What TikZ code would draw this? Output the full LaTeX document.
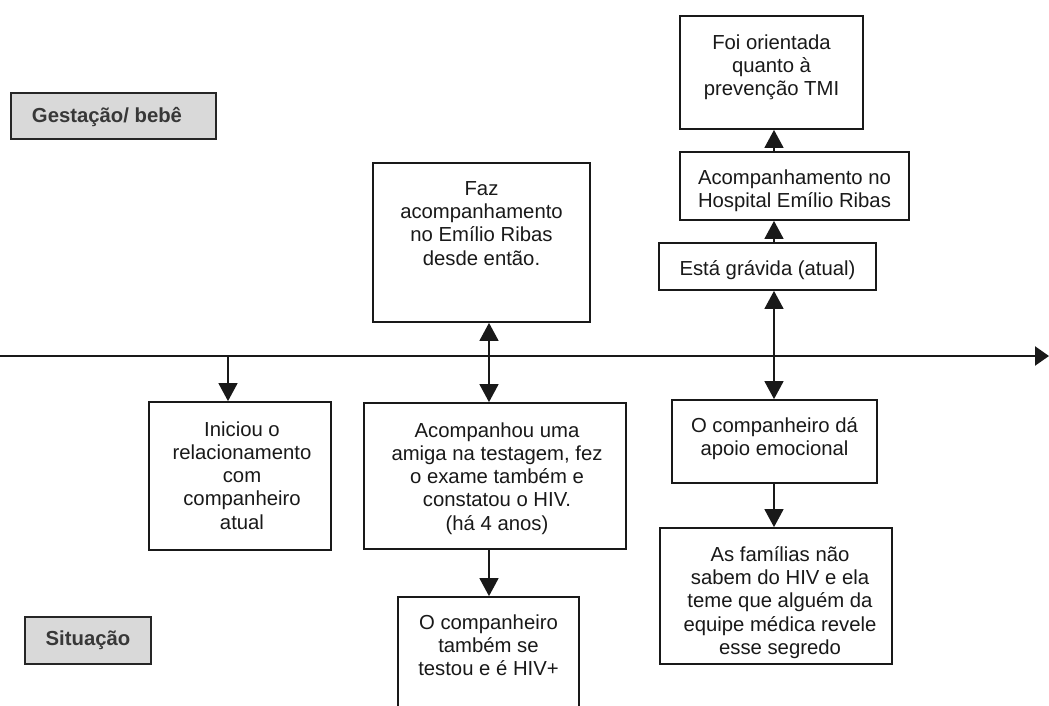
\documentclass[tikz,border=0pt]{standalone}
\usepackage{fontspec}
\setmainfont{Liberation Sans}
\usetikzlibrary{arrows.meta,calc}
\begin{document}
\begin{tikzpicture}[x=1pt,y=-1pt,
  box/.style={draw=black!90, line width=1.8pt, rectangle, inner sep=0pt},
  tag/.style={draw=black!85, line width=2pt, fill=black!15, rectangle, inner sep=0pt},
  tagtxt/.style={inner sep=0pt, font=\fontsize{20.3}{23.3}\selectfont\bfseries, text=black!78},
  txt/.style={align=center, inner sep=0pt, font=\fontsize{20.3}{23.3}\selectfont, text=black!90},
  arr/.style={draw=black!90, line width=1.5pt, -{Triangle[length=18pt,width=19pt]}},
  darr/.style={draw=black!90, line width=1.5pt, {Triangle[length=18pt,width=19pt]}-{Triangle[length=18pt,width=19pt]}},
  axis/.style={draw=black!90, line width=2.2pt, -{Triangle[length=14pt,width=19pt]}}
]
\useasboundingbox (0,0) rectangle (1049,705);
\fill[white] (0,0) rectangle (1049,705);
\clip (0,0) rectangle (1049,705);

% row labels
\node[tag, minimum width=205pt, minimum height=46pt] (gest) at (113.5,116) {};
\node[tagtxt] (gestT) at (107,117) {Gestação/ bebê};
\node[tag, minimum width=126pt, minimum height=47pt] (sit) at (88,640.5) {};
\node[tagtxt] (sitT) at (sit.center) {Situação};

% time axis
\coordinate (tA) at (0,356);
\coordinate (tB) at (1049,356);
\draw[axis] (tA) -- (tB);
\coordinate (xa) at (228,356);
\coordinate (xb) at (489,356);
\coordinate (xc) at (774,356);

% boxes above the axis
\node[box, minimum width=183pt, minimum height=113pt] (foi) at (771.5,72.5) {};
\node[box, minimum width=229pt, minimum height=68pt] (hosp) at (794.5,186) {};
\node[box, minimum width=217pt, minimum height=47pt] (grav) at (767.5,266.5) {};
\node[box, minimum width=217pt, minimum height=159pt] (faz) at (481.5,242.5) {};

% boxes below the axis
\node[box, minimum width=182pt, minimum height=148pt] (ini) at (240,476) {};
\node[box, minimum width=262pt, minimum height=146pt] (acomp) at (495,476) {};
\node[box, minimum width=181pt, minimum height=162pt] (comp2) at (488.5,678) {};
\node[box, minimum width=205pt, minimum height=83pt] (apoio) at (774.5,441.5) {};
\node[box, minimum width=232pt, minimum height=136pt] (fam) at (776,596) {};

% box texts
\node[txt, anchor=north] (foiT) at ($(foi.north)+(0,19)$) {Foi orientada\\quanto à\\prevenção TMI};
\node[txt, anchor=north] (hospT) at ($(hosp.north)+(0,18)$) {Acompanhamento no\\Hospital Emílio Ribas};
\node[txt, anchor=north] (gravT) at ($(grav.north)+(0,18)$) {Está grávida (atual)};
\node[txt, anchor=north] (fazT) at ($(faz.north)+(0,19)$) {Faz\\acompanhamento\\no Emílio Ribas\\desde então.};
\node[txt, anchor=north] (iniT) at ($(ini.north)+(2,20)$) {Iniciou o\\relacionamento\\com\\companheiro\\atual};
\node[txt, anchor=north] (acompT) at ($(acomp.north)+(2,20)$) {Acompanhou uma\\amiga na testagem, fez\\o exame também e\\constatou o HIV.\\(há 4 anos)};
\node[txt, anchor=north] (comp2T) at ($(comp2.north)+(0,18)$) {O companheiro\\também se\\testou e é HIV+};
\node[txt, anchor=north] (apoioT) at ($(apoio.north)+(0,18)$) {O companheiro dá\\apoio emocional};
\node[txt, anchor=north] (famT) at ($(fam.north)+(4,19)$) {As famílias não\\sabem do HIV e ela\\teme que alguém da\\equipe médica revele\\esse segredo};

% connectors
\draw[arr] (xa) -- (xa |- ini.north);
\draw[darr] (xb |- faz.south) -- (xb |- acomp.north);
\draw[arr] (xb |- acomp.south) -- (xb |- comp2.north);
\draw[darr] (xc |- grav.south) -- (xc |- apoio.north);
\draw[arr] (xc |- grav.north) -- (xc |- hosp.south);
\draw[arr] (xc |- hosp.north) -- (xc |- foi.south);
\draw[arr] (xc |- apoio.south) -- (xc |- fam.north);
\end{tikzpicture}
\end{document}
